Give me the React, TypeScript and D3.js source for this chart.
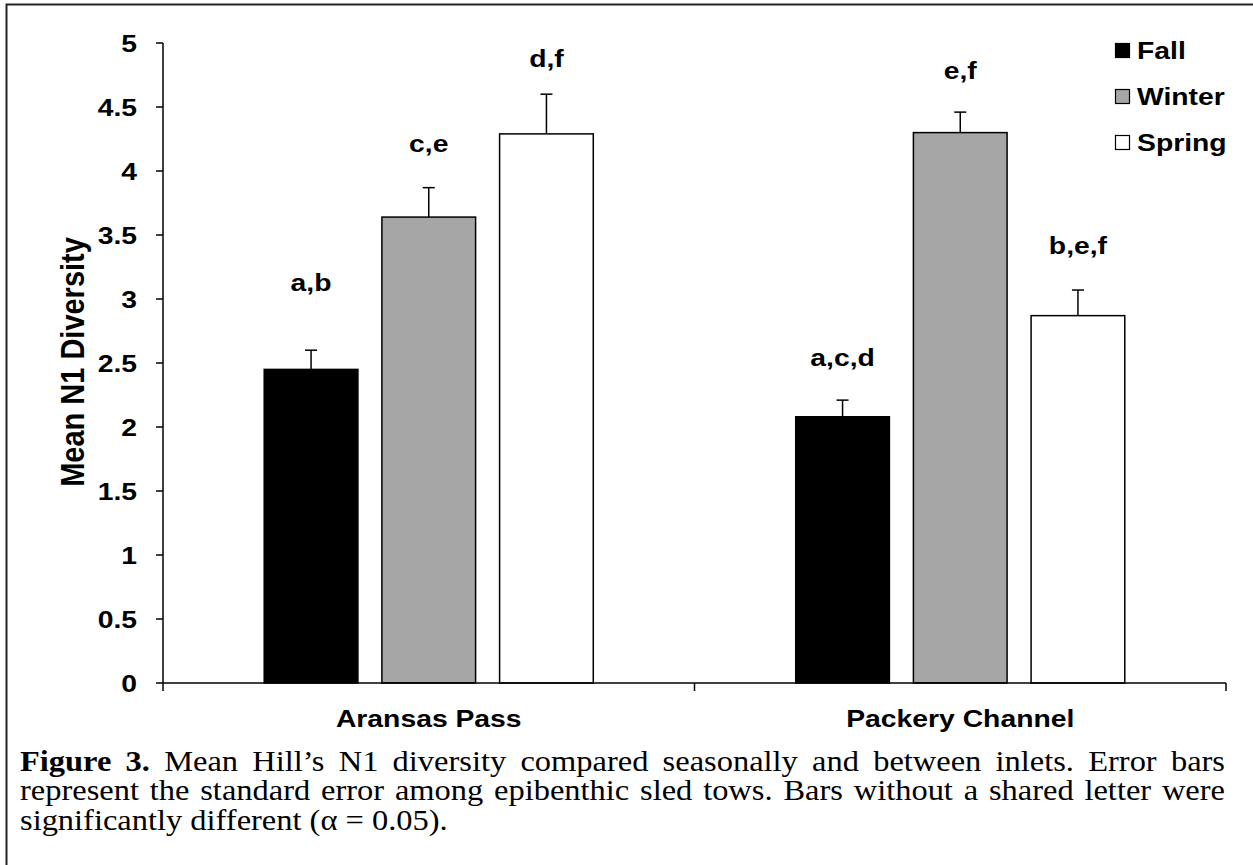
import React, { useEffect, useRef } from 'react';
import * as d3 from 'd3';

// ---- data ----
const categories = ['Aransas Pass', 'Packery Channel'];
const seasons = ['Fall', 'Winter', 'Spring'];
const meansAransas = [2.45, 3.64, 4.29];
const meansPackery = [2.08, 4.3, 2.87];
const seAransas = [0.15, 0.23, 0.31];
const sePackery = [0.13, 0.16, 0.2];
const lettersAransas = ['a,b', 'c,e', 'd,f'];
const lettersPackery = ['a,c,d', 'e,f', 'b,e,f'];
const letterLevelAransas = [3.06, 4.15, 4.81];
const letterLevelPackery = [2.48, 4.72, 3.35];
const yTicks = [0, 0.5, 1, 1.5, 2, 2.5, 3, 3.5, 4, 4.5, 5];
const yTickLabels = ['0', '0.5', '1', '1.5', '2', '2.5', '3', '3.5', '4', '4.5', '5'];
const seasonFills = ['#000000', '#a6a6a6', '#ffffff'];
const yTitle = 'Mean N1 Diversity';
const captionLine1 = [
  { t: 'Figure', b: true }, { t: '3.', b: true }, { t: 'Mean' }, { t: 'Hill’s' }, { t: 'N1' },
  { t: 'diversity' }, { t: 'compared' }, { t: 'seasonally' }, { t: 'and' }, { t: 'between' },
  { t: 'inlets.' }, { t: 'Error' }, { t: 'bars' },
];
const captionLine2 = 'represent the standard error among epibenthic sled tows. Bars without a shared letter were'
  .split(' ').map((t) => ({ t }));
const captionLine3 = 'significantly different (α = 0.05).';

const W = 1253;
const H = 865;
const SX = 1.18;
const CSX = 1.12;
const SANS = '"Liberation Sans", Arial, sans-serif';
const SERIF = '"Liberation Serif", "Times New Roman", Times, serif';

export default function App() {
  const ref = useRef<SVGSVGElement | null>(null);

  useEffect(() => {
    const svg = d3.select(ref.current);
    svg.selectAll('*').remove();

    const left = 163, right = 1226, top = 43, bottom = 683;
    const y = d3.scaleLinear().domain([0, 5]).range([bottom, top]);
    const x0 = d3.scaleBand<string>().domain(categories).range([left, right]).padding(0);
    const x1 = d3.scaleBand<string>().domain(seasons).range([0, x0.bandwidth()])
      .paddingInner(0.204).paddingOuter(0.86);

    // frame
    svg.append('path').attr('d', `M6.5,${H + 5} L6.5,4.5 L${W + 5},4.5`)
      .attr('fill', 'none').attr('stroke', '#222').attr('stroke-width', 2);

    const groups = [
      { cat: categories[0], means: meansAransas, se: seAransas, letters: lettersAransas, lv: letterLevelAransas },
      { cat: categories[1], means: meansPackery, se: sePackery, letters: lettersPackery, lv: letterLevelPackery },
    ];

    groups.forEach((g) => {
      const gx = x0(g.cat)!;
      seasons.forEach((s, i) => {
        const bx = gx + x1(s)!;
        const bw = x1.bandwidth();
        const v = g.means[i];
        const cx = bx + bw / 2;
        svg.append('line').attr('x1', cx).attr('x2', cx).attr('y1', y(v)).attr('y2', y(v + g.se[i]))
          .attr('stroke', '#000').attr('stroke-width', 1.5);
        svg.append('line').attr('x1', cx - 6).attr('x2', cx + 6).attr('y1', y(v + g.se[i])).attr('y2', y(v + g.se[i]))
          .attr('stroke', '#000').attr('stroke-width', 1.5);
        svg.append('rect').attr('x', bx).attr('y', y(v)).attr('width', bw).attr('height', y(0) - y(v))
          .attr('fill', seasonFills[i]).attr('stroke', '#000').attr('stroke-width', 1.5);
        svg.append('text')
          .attr('transform', `translate(${cx},${y(g.lv[i])}) scale(${SX},1)`)
          .attr('text-anchor', 'middle').attr('font-family', SANS).attr('font-weight', 'bold')
          .attr('font-size', 24).text(g.letters[i]);
      });
    });

    // y axis
    svg.append('line').attr('x1', left).attr('x2', left).attr('y1', top).attr('y2', bottom)
      .attr('stroke', '#000').attr('stroke-width', 1.5);
    yTicks.forEach((t, i) => {
      svg.append('line').attr('x1', left - 7).attr('x2', left).attr('y1', y(t)).attr('y2', y(t))
        .attr('stroke', '#000').attr('stroke-width', 1.5);
      svg.append('text')
        .attr('transform', `translate(${137},${y(t)}) scale(${SX},1)`)
        .attr('dy', '0.36em').attr('text-anchor', 'end').attr('font-family', SANS)
        .attr('font-weight', 'bold').attr('font-size', 24).text(yTickLabels[i]);
    });

    // x axis
    svg.append('line').attr('x1', left).attr('x2', right).attr('y1', bottom).attr('y2', bottom)
      .attr('stroke', '#000').attr('stroke-width', 1.5);
    const xt = [left, ...categories.map((c) => x0(c)! + x0.bandwidth())];
    xt.forEach((t) => {
      svg.append('line').attr('x1', t).attr('x2', t).attr('y1', bottom).attr('y2', bottom + 8)
        .attr('stroke', '#000').attr('stroke-width', 1.5);
    });
    categories.forEach((c) => {
      svg.append('text')
        .attr('transform', `translate(${x0(c)! + x0.bandwidth() / 2},${727}) scale(${SX},1)`)
        .attr('text-anchor', 'middle').attr('font-family', SANS).attr('font-weight', 'bold')
        .attr('font-size', 24).text(c);
    });

    // y title
    svg.append('text')
      .attr('transform', `translate(${84},${362}) rotate(-90) scale(1,1.12)`)
      .attr('text-anchor', 'middle').attr('font-family', SANS).attr('font-weight', 'bold')
      .attr('font-size', 29).text(yTitle);

    // legend
    seasons.forEach((s, i) => {
      const ly = 43 + i * 46;
      svg.append('rect').attr('x', 1115.5).attr('y', ly + 0.5).attr('width', 14).attr('height', 14)
        .attr('fill', seasonFills[i]).attr('stroke', '#000').attr('stroke-width', 1.2);
      svg.append('text')
        .attr('transform', `translate(${1137},${ly + 16}) scale(${SX},1)`)
        .attr('font-family', SANS).attr('font-weight', 'bold').attr('font-size', 24).text(s);
    });

    // caption
    const capLeft = 20, capRight = 1225, capSize = 29;
    const justify = (words: { t: string; b?: boolean }[], baseline: number) => {
      const nodes = words.map((w) =>
        svg.append('text').attr('font-family', SERIF).attr('font-size', capSize)
          .attr('font-weight', w.b ? 'bold' : 'normal').text(w.t)
          .attr('transform', `translate(0,${baseline}) scale(${CSX},1)`));
      const widths = nodes.map((n) => (n.node() as SVGTextElement).getComputedTextLength() * CSX);
      const total = widths.reduce((a, b) => a + b, 0);
      const gap = (capRight - capLeft - total) / (words.length - 1);
      let cx = capLeft;
      nodes.forEach((n, i) => {
        n.attr('transform', `translate(${cx},${baseline}) scale(${CSX},1)`);
        cx += widths[i] + gap;
      });
    };
    justify(captionLine1, 771);
    justify(captionLine2, 800);
    svg.append('text').attr('font-family', SERIF).attr('font-size', capSize)
      .attr('transform', `translate(${capLeft},${830}) scale(${CSX},1)`).text(captionLine3);
  }, []);

  return (
    <div style={{ position: 'absolute', left: 0, top: 0 }}>
      <svg ref={ref} width={W} height={H} style={{ display: 'block', background: '#fff' }} />
    </div>
  );
}
